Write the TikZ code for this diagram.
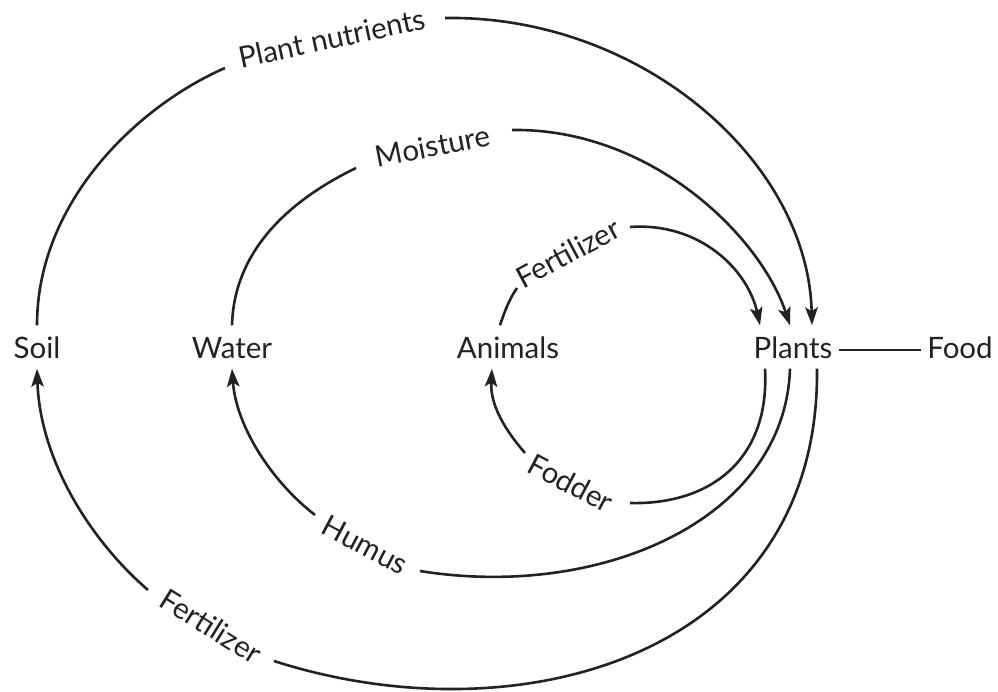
\documentclass[tikz,border=0pt]{standalone}
\usepackage{fontspec}
\setmainfont{Lato}
\usetikzlibrary{arrows.meta}
\definecolor{ink}{HTML}{222222}
\begin{document}
\begin{tikzpicture}[x=1pt,y=-1pt,
  every node/.style={font=\fontsize{29.5}{32}\selectfont, text=ink},
  term/.style={inner xsep=6pt, inner ysep=10pt, text height=23pt, text depth=0pt},
  lab/.style={inner sep=0pt},
  conn/.style={line width=2.6pt, draw=ink},
  arr/.style={conn, -{Stealth[length=18pt,width=12.5pt,inset=4pt]}}]
\useasboundingbox (0,0) rectangle (998,691);
% terms
\node[term] (soil) at (37,347) {Soil};
\node[term] (water) at (232,347) {Water};
\node[term] (animals) at (508,347) {Animals};
\node[term] (plants) at (793,347) {Plants};
\node[term] (food) at (960,347) {Food};
% labels
\node[lab, rotate=12] (pn) at (332,38) {Plant nutrients};
\node[lab, rotate=11] (mo) at (433,146) {Moisture};
\node[lab, rotate=28] (ft) at (568,253) {Fertilizer};
\node[lab, rotate=-28] (fo) at (571,483) {Fodder};
\node[lab, rotate=-28] (hu) at (365,545) {Humus};
\node[lab, rotate=-32] (fb) at (211,626) {Fertilizer};
% gap ends beside the labels
\coordinate (pnL) at (225,68);  \coordinate (pnR) at (445,18);
\coordinate (moL) at (356,168); \coordinate (moR) at (512,130);
\coordinate (ftL) at (517,288); \coordinate (ftR) at (630,227);
\coordinate (foL) at (525,453); \coordinate (foR) at (630,503);
\coordinate (huL) at (315,515); \coordinate (huR) at (420,571);
\coordinate (fbL) at (148,590); \coordinate (fbR) at (274,661);
% Soil -> Plants (plant nutrients)
\draw[conn] (soil.north) .. controls (37,200) and (140,105) .. (pnL);
\draw[arr] (pnR) .. controls (640,15) and (808,160) .. ([xshift=19pt]plants.north);
% Water -> Plants (moisture)
\draw[conn] (water.north) .. controls (234,250) and (290,200) .. (moL);
\draw[arr] (moR) .. controls (650,128) and (760,235) .. ([xshift=-3pt]plants.north);
% Animals -> Plants (fertilizer)
\draw[conn] ([xshift=-8pt]animals.north) .. controls (505,310) and (510,298) .. (ftL);
\draw[arr] (ftR) .. controls (700,222) and (748,270) .. ([xshift=-33pt]plants.north);
% Plants -> Animals (fodder)
\draw[conn] ([xshift=-28pt]plants.south) .. controls (770,460) and (710,505) .. (foR);
\draw[arr] (foL) .. controls (505,430) and (490,405) .. ([xshift=-16pt]animals.south);
% Plants -> Water (humus)
\draw[conn] ([xshift=-3pt]plants.south) .. controls (785,520) and (600,600) .. (huR);
\draw[arr] (huL) .. controls (270,480) and (236,425) .. (water.south);
% Plants -> Soil (fertilizer)
\draw[conn] ([xshift=24pt]plants.south) .. controls (820,655) and (520,740) .. (fbR);
\draw[arr] (fbL) .. controls (90,540) and (40,460) .. (soil.south);
% Plants -- Food
\draw[conn] ([yshift=-3pt]plants.east) -- ([yshift=-3pt]food.west);
\end{tikzpicture}
\end{document}
